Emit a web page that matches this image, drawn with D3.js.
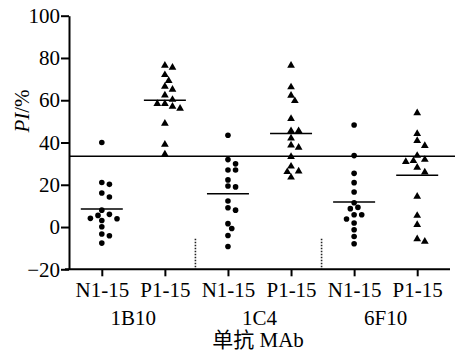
<!DOCTYPE html>
<html><head><meta charset="utf-8">
<script src="https://cdn.jsdelivr.net/npm/d3@7"></script>
<style>
body{margin:0;background:#fff;}
text{font-family:"Liberation Serif","Times New Roman","Noto Sans CJK SC",serif;fill:#000;}
</style></head>
<body><svg id="c" width="460" height="352"></svg>
<script>
// ---- data ----
const categories = ["N1-15","P1-15","N1-15","P1-15","N1-15","P1-15"];
const antibodies = ["1B10","1C4","6F10"];
const n1B10 = [40,21.1,20.2,16.1,14.2,8.0,6.0,5.5,4.1,3.9,3.1,0.1,-3.3,-4.1,-7.6];
const p1B10 = [76.4,75.5,72.0,69.2,66.5,65.1,62.4,60.3,58.3,57.0,58.3,56.1,49.0,39.1,34.4];
const n1C4  = [43.4,31.9,29.9,27.0,27.0,22.3,19.4,19.0,12.3,9.1,8.0,1.6,-0.7,-4.0,-9.2];
const p1C4  = [76.4,66.2,62.2,59.7,51.2,45.5,45.5,42.0,38.7,37.6,33.3,28.7,26.4,26.1,23.5];
const n6F10 = [48.3,33.8,25.4,21.0,16.6,11.5,9.3,8.7,5.8,5.8,3.8,1.9,-1.3,-4.5,-7.9];
const p6F10 = [54.0,44.1,40.8,38.5,33.8,31.3,30.9,31.9,28.2,25.9,14.5,5.4,1.1,-6.8,-5.7];
const seriesValues = [n1B10,p1B10,n1C4,p1C4,n6F10,p6F10];
const markerTypes = ["circle","triangle","circle","triangle","circle","triangle"];
const yTicks = [-20,0,20,40,60,80,100];
const cutoff = 33.5;
const yLabel = "PI/%";
const xTitle = "单抗 MAb";

// ---- layout ----
const svg = d3.select("#c");
const mLeft = 69, mRight = 450, mTop = 15.7, mBottom = 269.3;
const FS = 21;
const y = d3.scaleLinear().domain([-20,100]).range([mBottom, mTop]);
const idx = d3.range(categories.length);
const x = d3.scalePoint().domain(idx).range([mLeft, mRight]).padding(0.52);

// threshold line
svg.append("line").attr("x1", mLeft).attr("x2", 455)
  .attr("y1", y(cutoff)).attr("y2", y(cutoff))
  .attr("stroke","#000").attr("stroke-width",1.5);

// separators
for (let g = 1; g < antibodies.length; g++) {
  const xm = (x(2*g-1) + x(2*g)) / 2 - 1;
  svg.append("line").attr("x1", xm).attr("x2", xm)
    .attr("y1", y(-5.5)).attr("y2", mBottom)
    .attr("stroke","#222").attr("stroke-width",1.6).attr("stroke-dasharray","1.6,1.4");
}

// beeswarm layout
function swarm(vals, cx, s, dmin) {
  const pts = vals.map(v => ({v, py: y(v)})).sort((a,b)=>a.py-b.py);
  const placed = [];
  pts.forEach(p => {
    const cands = [0];
    for (let k = 1; k < 8; k++) { cands.push(k, -k); }
    let best = 0;
    for (const k of cands) {
      const px = cx + k*s;
      if (placed.every(q => Math.hypot(q.px-px, q.py-p.py) >= dmin)) { best = k; break; }
    }
    p.px = cx + best*s;
    placed.push(p);
  });
  return placed;
}

const tri = d3.symbol().type(d3.symbolTriangle).size(26);
seriesValues.forEach((vals, i) => {
  const cx = x(i);
  const isTri = markerTypes[i] === "triangle";
  const pts = swarm(vals, cx, 3.8, isTri ? 6.5 : 6);
  const g = svg.append("g");
  pts.forEach(p => {
    if (isTri) g.append("path").attr("d", tri()).attr("transform", `translate(${p.px},${p.py})`).attr("fill","#000");
    else g.append("circle").attr("cx", p.px).attr("cy", p.py).attr("r", 2.8).attr("fill","#000");
  });
  const m = d3.mean(vals);
  svg.append("line").attr("x1", cx-21).attr("x2", cx+21)
    .attr("y1", y(m)).attr("y2", y(m)).attr("stroke","#000").attr("stroke-width",1.5);
});

// axes
const yAxis = d3.axisLeft(y).tickValues(yTicks).tickSize(8).tickSizeOuter(0).tickPadding(1);
const gy = svg.append("g").attr("transform", `translate(${mLeft},0)`).call(yAxis);
const xAxis = d3.axisBottom(x).tickSize(7).tickSizeOuter(0).tickPadding(6).tickFormat(i => categories[i]);
const gx = svg.append("g").attr("transform", `translate(0,${mBottom})`).call(xAxis);
[gy, gx].forEach(g => {
  g.select(".domain").attr("stroke","#000").attr("stroke-width",2);
  g.selectAll(".tick line").attr("stroke","#000").attr("stroke-width",2);
  g.selectAll(".tick text").attr("font-size",FS).attr("font-family","Liberation Serif").attr("fill","#000");
});
gx.select(".domain").attr("d", `M${mLeft-4},0H${mRight}`);

// group labels
antibodies.forEach((a, g) => {
  svg.append("text").attr("x", (x(2*g)+x(2*g+1))/2).attr("y", 325)
    .attr("text-anchor","middle").attr("font-size",FS).text(a);
});
svg.append("text").attr("x", 258).attr("y", 347).attr("text-anchor","middle")
  .attr("font-size",FS).text(xTitle);

// y label
const yl = svg.append("text").attr("transform","translate(29,111) rotate(-90)")
  .attr("text-anchor","middle").attr("font-size",FS);
yl.append("tspan").attr("font-style","italic").text(yLabel.slice(0,2));
yl.append("tspan").text(yLabel.slice(2));
</script></body></html>
